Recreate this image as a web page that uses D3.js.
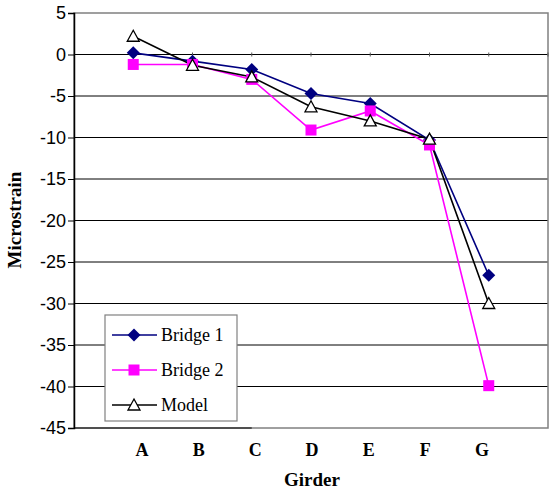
<!DOCTYPE html>
<html><head><meta charset="utf-8">
<script src="https://cdn.jsdelivr.net/npm/d3@7"></script>
<style>body{margin:0;background:#fff}svg{display:block}</style>
</head><body>
<script>
const categories = ["A","B","C","D","E","F","G"];
const bridge1 = [0.2, -0.8, -1.8, -4.7, -5.9, -10.3, -26.6];
const bridge2 = [-1.2, -1.2, -3.0, -9.1, -6.8, -10.9, -39.9];
const model = [2.2, -1.3, -2.7, -6.3, -8.0, -10.2, -30.0];
const yTicks = [5,0,-5,-10,-15,-20,-25,-30,-35,-40,-45];

const W=555,H=498;
const L=74,R=548,T=13,B=428;
const svg=d3.select("body").append("svg").attr("width",W).attr("height",H);
const y=d3.scaleLinear().domain([-45,5]).range([B,T]);
const x=d3.scaleLinear().domain([0,8]).range([L,R]);
const xl=d3.scaleLinear().domain([0,6]).range([142,482]);

// gridlines
svg.append("g").selectAll("line").data(yTicks.filter(d=>d>-45&&d<5)).join("line")
 .attr("x1",L).attr("x2",R).attr("y1",d=>y(d)).attr("y2",d=>y(d)).attr("stroke","#000").attr("stroke-width",1);
// plot border
svg.append("rect").attr("x",L).attr("y",T).attr("width",R-L).attr("height",B-T)
 .attr("fill","none").attr("stroke","#808080").attr("stroke-width",1.5);
// y axis
const ya=d3.axisLeft(y).tickValues(yTicks).tickSize(6).tickFormat(d=>String(d));
const yg=svg.append("g").attr("transform",`translate(${L},0)`).call(ya);
yg.select(".domain").attr("stroke","#000").attr("stroke-width",1.5);
yg.selectAll(".tick line").attr("stroke","#000");
yg.selectAll("text").attr("font-family","Liberation Sans, Arial, sans-serif").attr("font-size",18).attr("fill","#000").attr("x",-8);
svg.append("line").attr("x1",L).attr("x2",x(3)).attr("y1",B).attr("y2",B).attr("stroke","#000").attr("stroke-width",1);
// tiny category ticks on zero line
svg.append("g").selectAll("line").data(d3.range(1,9)).join("line")
 .attr("x1",d=>x(d)).attr("x2",d=>x(d)).attr("y1",y(0)-2).attr("y2",y(0)+2).attr("stroke","#555").attr("stroke-width",1);

// series
const series=[
 {name:"Bridge 1",vals:bridge1,color:"#000080",marker:"diamond"},
 {name:"Bridge 2",vals:bridge2,color:"#ff00ff",marker:"square"},
 {name:"Model",vals:model,color:"#000000",marker:"triangle"}
];
const line=d3.line().x((d,i)=>x(i+1)).y(d=>y(d));
function marker(g,type,color,cx,cy){
  if(type==="diamond") g.append("path").attr("d",`M${cx},${cy-6.5}L${cx+6.5},${cy}L${cx},${cy+6.5}L${cx-6.5},${cy}Z`).attr("fill",color);
  else if(type==="square") g.append("rect").attr("x",cx-5.5).attr("y",cy-5.5).attr("width",11).attr("height",11).attr("fill",color);
  else g.append("path").attr("d",`M${cx},${cy-6}L${cx+6},${cy+5}L${cx-6},${cy+5}Z`).attr("fill","#fff").attr("stroke",color).attr("stroke-width",1.3);
}
series.forEach(s=>{
  svg.append("path").datum(s.vals).attr("d",line).attr("fill","none").attr("stroke",s.color).attr("stroke-width",1.6);
});
series.forEach(s=>{
  const g=svg.append("g");
  s.vals.forEach((v,i)=>marker(g,s.marker,s.color,x(i+1),y(v)));
});

// x labels
svg.append("g").selectAll("text").data(categories).join("text")
 .attr("x",(d,i)=>xl(i)).attr("y",456).attr("text-anchor","middle")
 .attr("font-family","Liberation Serif, Times New Roman, serif").attr("font-weight","bold").attr("font-size",18).text(d=>d);
svg.append("text").attr("x",312).attr("y",486).attr("text-anchor","middle")
 .attr("font-family","Liberation Serif, Times New Roman, serif").attr("font-weight","bold").attr("font-size",19).text("Girder");
svg.append("text").attr("transform","translate(21,220) rotate(-90)").attr("text-anchor","middle")
 .attr("font-family","Liberation Serif, Times New Roman, serif").attr("font-weight","bold").attr("font-size",19).text("Microstrain");

// legend
const lg=svg.append("g");
lg.append("rect").attr("x",105).attr("y",315).attr("width",132).attr("height",106).attr("fill","#fff").attr("stroke","#808080").attr("stroke-width",1.2);
series.forEach((s,i)=>{
  const cy=335+i*35;
  lg.append("line").attr("x1",112).attr("x2",157).attr("y1",cy).attr("y2",cy).attr("stroke",s.color).attr("stroke-width",1.6);
  marker(lg,s.marker,s.color,134,cy);
  lg.append("text").attr("x",161).attr("y",cy+6).attr("font-family","Liberation Serif, Times New Roman, serif").attr("font-size",18).text(s.name);
});
</script>
</body></html>
